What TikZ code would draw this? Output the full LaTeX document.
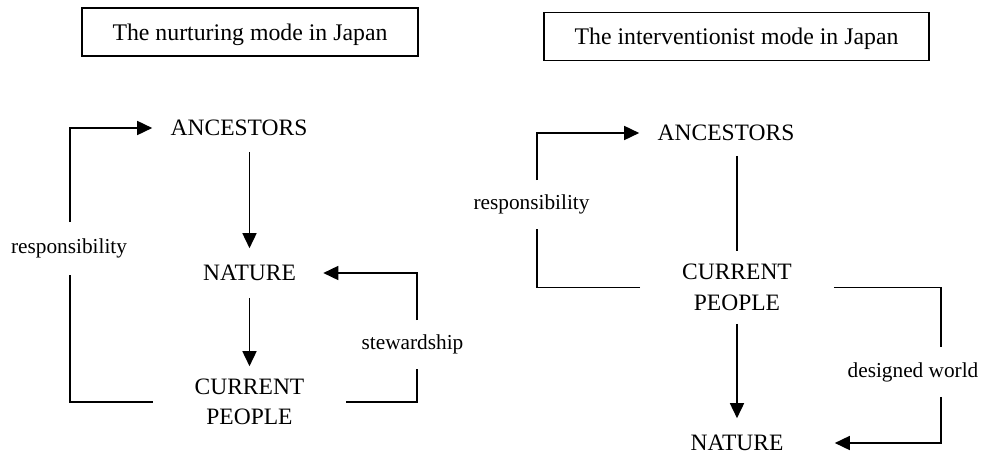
\documentclass[tikz,border=0pt]{standalone}
\usepackage{fontspec}
\setmainfont{Liberation Serif}
\usetikzlibrary{arrows.meta}
\begin{document}
\begin{tikzpicture}[x=1pt,y=-1pt,
  line width=1.6pt,
  arr/.style={-{Triangle[length=15pt,width=14pt]}},
  titlebox/.style={draw,line width=1.4pt,inner sep=0pt,text depth=0pt,font=\fontsize{23.8}{28}\selectfont},
  term/.style={inner sep=0pt,align=center,font=\fontsize{23.5}{30.5}\selectfont},
  lab/.style={inner sep=0pt,font=\fontsize{21.3}{25}\selectfont}]
\useasboundingbox (0,0) rectangle (982,455);
% ---- left: nurturing mode ----
\node[titlebox,minimum width=336pt,minimum height=48pt] (tL) at (250,32) {The nurturing mode in Japan};
\node[term,minimum width=172pt,minimum height=46pt] (ancL) at (239,128) {ANCESTORS};
\node[term,minimum width=146pt,minimum height=48pt] (natL) at (249.5,273) {NATURE};
\node[term,minimum width=192pt,minimum height=70pt] (cpL) at (249.5,402) {CURRENT\\PEOPLE};
\node[lab,minimum height=51pt] (respL) at (69,248.5) {responsibility};
\node[lab,minimum height=47pt] (stewL) at (412.5,344.5) {stewardship};
\draw[arr] (ancL.south -| natL.north) -- (natL.north);
\draw[arr] (natL.south) -- (cpL.north);
\draw (cpL.west) -| ([xshift=1pt]respL.south);
\draw[arr] ([xshift=1pt]respL.north) |- (ancL.west);
\draw (cpL.east) -| ([xshift=4.5pt]stewL.south);
\draw[arr] ([xshift=4.5pt]stewL.north) |- (natL.east);
% ---- right: interventionist mode ----
\node[titlebox,minimum width=385pt,minimum height=48pt] (tR) at (736.5,36.5) {The interventionist mode in Japan};
\node[term,minimum width=172pt,minimum height=44pt] (ancR) at (726,133) {ANCESTORS};
\node[term,minimum width=192pt,minimum height=71pt] (cpR) at (737,287.5) {CURRENT\\PEOPLE};
\node[term,minimum width=194pt,minimum height=48pt] (natR) at (737,443) {NATURE};
\node[lab,minimum height=47pt] (respR) at (531.5,204.5) {responsibility};
\node[lab,minimum height=48pt] (desR) at (913,372) {designed world};
\draw (ancR.south -| cpR.north) -- (cpR.north);
\draw[arr] (cpR.south) -- (natR.north);
\draw (cpR.west) -| ([xshift=5.5pt]respR.south);
\draw[arr] ([xshift=5.5pt]respR.north) |- (ancR.west);
\draw (cpR.east) -| ([xshift=28pt]desR.north);
\draw[arr] ([xshift=28pt]desR.south) |- (natR.east);
\end{tikzpicture}
\end{document}
